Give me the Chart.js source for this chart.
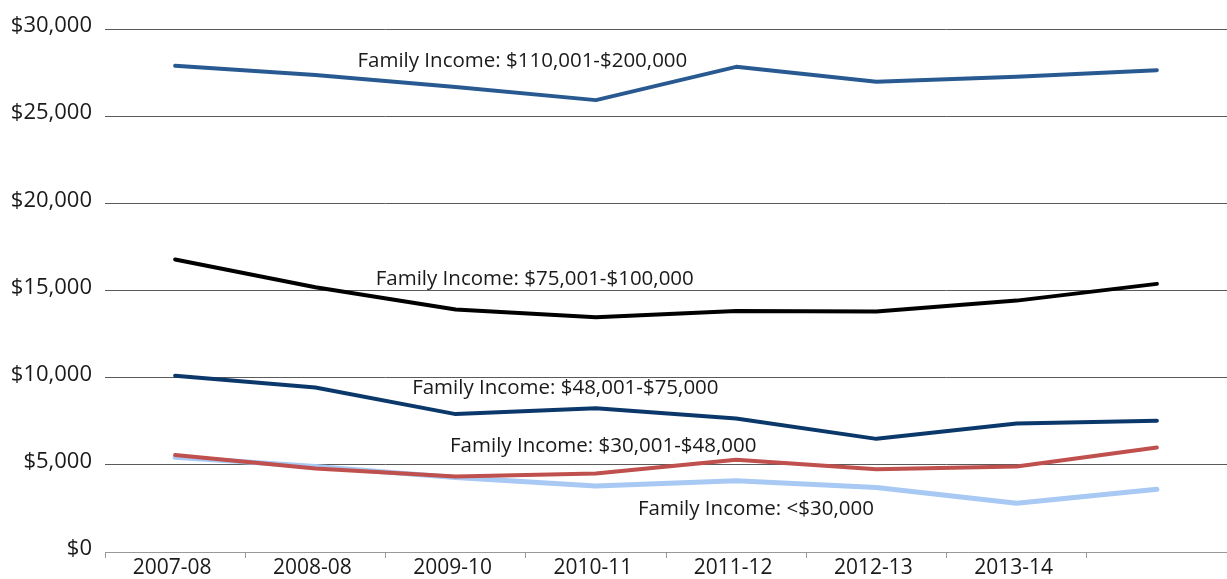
<!DOCTYPE html>
<html>
<head>
<meta charset="utf-8">
<script src="https://cdn.jsdelivr.net/npm/chart.js@4/dist/chart.umd.min.js"></script>
<style>
  html, body { margin: 0; padding: 0; background: #fff; }
  #wrap { width: 1227px; height: 579px; }
</style>
</head>
<body>
<div id="wrap"><canvas id="grafica"></canvas></div>
<script>
// anos academicos (el ultimo punto no tiene etiqueta en el original)
let years = ['2007-08', '2008-08', '2009-10', '2010-11', '2011-12', '2012-13', '2013-14', ''];

let income110to200 = [27890, 27360, 26670, 25920, 27830, 26970, 27260, 27640];
let income75to100 = [16780, 15190, 13910, 13470, 13830, 13790, 14420, 15380];
let income48to75 = [10110, 9440, 7910, 8240, 7660, 6490, 7370, 7530];
let income30to48 = [5570, 4790, 4330, 4500, 5290, 4750, 4900, 5990];
let incomeUnder30 = [5440, 4900, 4270, 3790, 4080, 3700, 2800, 3600];

let yTicks = [0, 5000, 10000, 15000, 20000, 25000, 30000];

let seriesNames = [
    'Family Income: $110,001-$200,000',
    'Family Income: $75,001-$100,000',
    'Family Income: $48,001-$75,000',
    'Family Income: $30,001-$48,000',
    'Family Income: <$30,000'
];
// donde va cada etiqueta: [indice de categoria (borde izq), valor en y]
let labelAnchors = [
    [1.30, 28150],
    [1.43, 15650],
    [1.69, 9400],
    [1.96, 6050],
    [3.30, 2470]
];

let fuente = '"Open Sans", "DejaVu Sans", sans-serif';

let etiquetasPlugin = {
    id: 'etiquetas',
    afterDatasetsDraw(chart) {
        let ctx = chart.ctx;
        let x = chart.scales.x;
        let y = chart.scales.y;
        ctx.save();
        ctx.font = '20.5px ' + fuente;
        ctx.fillStyle = '#1a1a1a';
        ctx.textAlign = 'left';
        ctx.textBaseline = 'middle';
        seriesNames.forEach((nombre, i) => {
            ctx.fillText(nombre, x.getPixelForValue(labelAnchors[i][0]), y.getPixelForValue(labelAnchors[i][1]));
        });
        ctx.restore();
    }
};

function serie(data, color, width)
{
    return {
        data: data,
        borderColor: color,
        backgroundColor: color,
        borderWidth: width,
        pointRadius: 0,
        tension: 0,
        borderCapStyle: 'round',
        borderJoinStyle: 'round',
        fill: false
    };
}

let ctx = document.getElementById('grafica').getContext('2d');
let grafica = new Chart(ctx, {
    type: 'line',
    data: {
        labels: years,
        datasets: [
            serie(income110to200, '#285a91', 4),
            serie(income75to100, '#000000', 4),
            serie(income48to75, '#0b386a', 4),
            serie(income30to48, '#c0504d', 4),
            serie(incomeUnder30, '#a7c9f3', 5)
        ]
    },
    options: {
        responsive: true,
        maintainAspectRatio: false,
        animation: false,
        layout: { padding: { top: 29, right: 0, bottom: 0, left: 0 } },
        plugins: {
            legend: { display: false },
            tooltip: { enabled: false }
        },
        scales: {
            x: {
                offset: true,
                grid: {
                    offset: true,
                    drawOnChartArea: false,
                    drawTicks: true,
                    tickLength: 6,
                    color: '#999999'
                },
                border: { color: '#999999', width: 1 },
                ticks: {
                    color: '#1a1a1a',
                    font: { family: fuente, size: 21, lineHeight: 1 },
                    maxRotation: 0,
                    autoSkip: false,
                    padding: 0,
                    labelOffset: -3
                }
            },
            y: {
                min: 0,
                max: 30000,
                afterBuildTicks: function(axis) {
                    axis.ticks = yTicks.map(v => ({ value: v }));
                },
                afterFit: function(axis) {
                    axis.width = 105;
                },
                grid: {
                    color: '#5a5a5a',
                    drawTicks: false
                },
                border: { display: false },
                ticks: {
                    color: '#1a1a1a',
                    font: { family: fuente, size: 22, lineHeight: 1 },
                    padding: 13,
                    labelOffset: -3,
                    callback: function(value) {
                        return '$' + value.toLocaleString('en-US');
                    }
                }
            }
        }
    },
    plugins: [etiquetasPlugin]
});
</script>
</body>
</html>
